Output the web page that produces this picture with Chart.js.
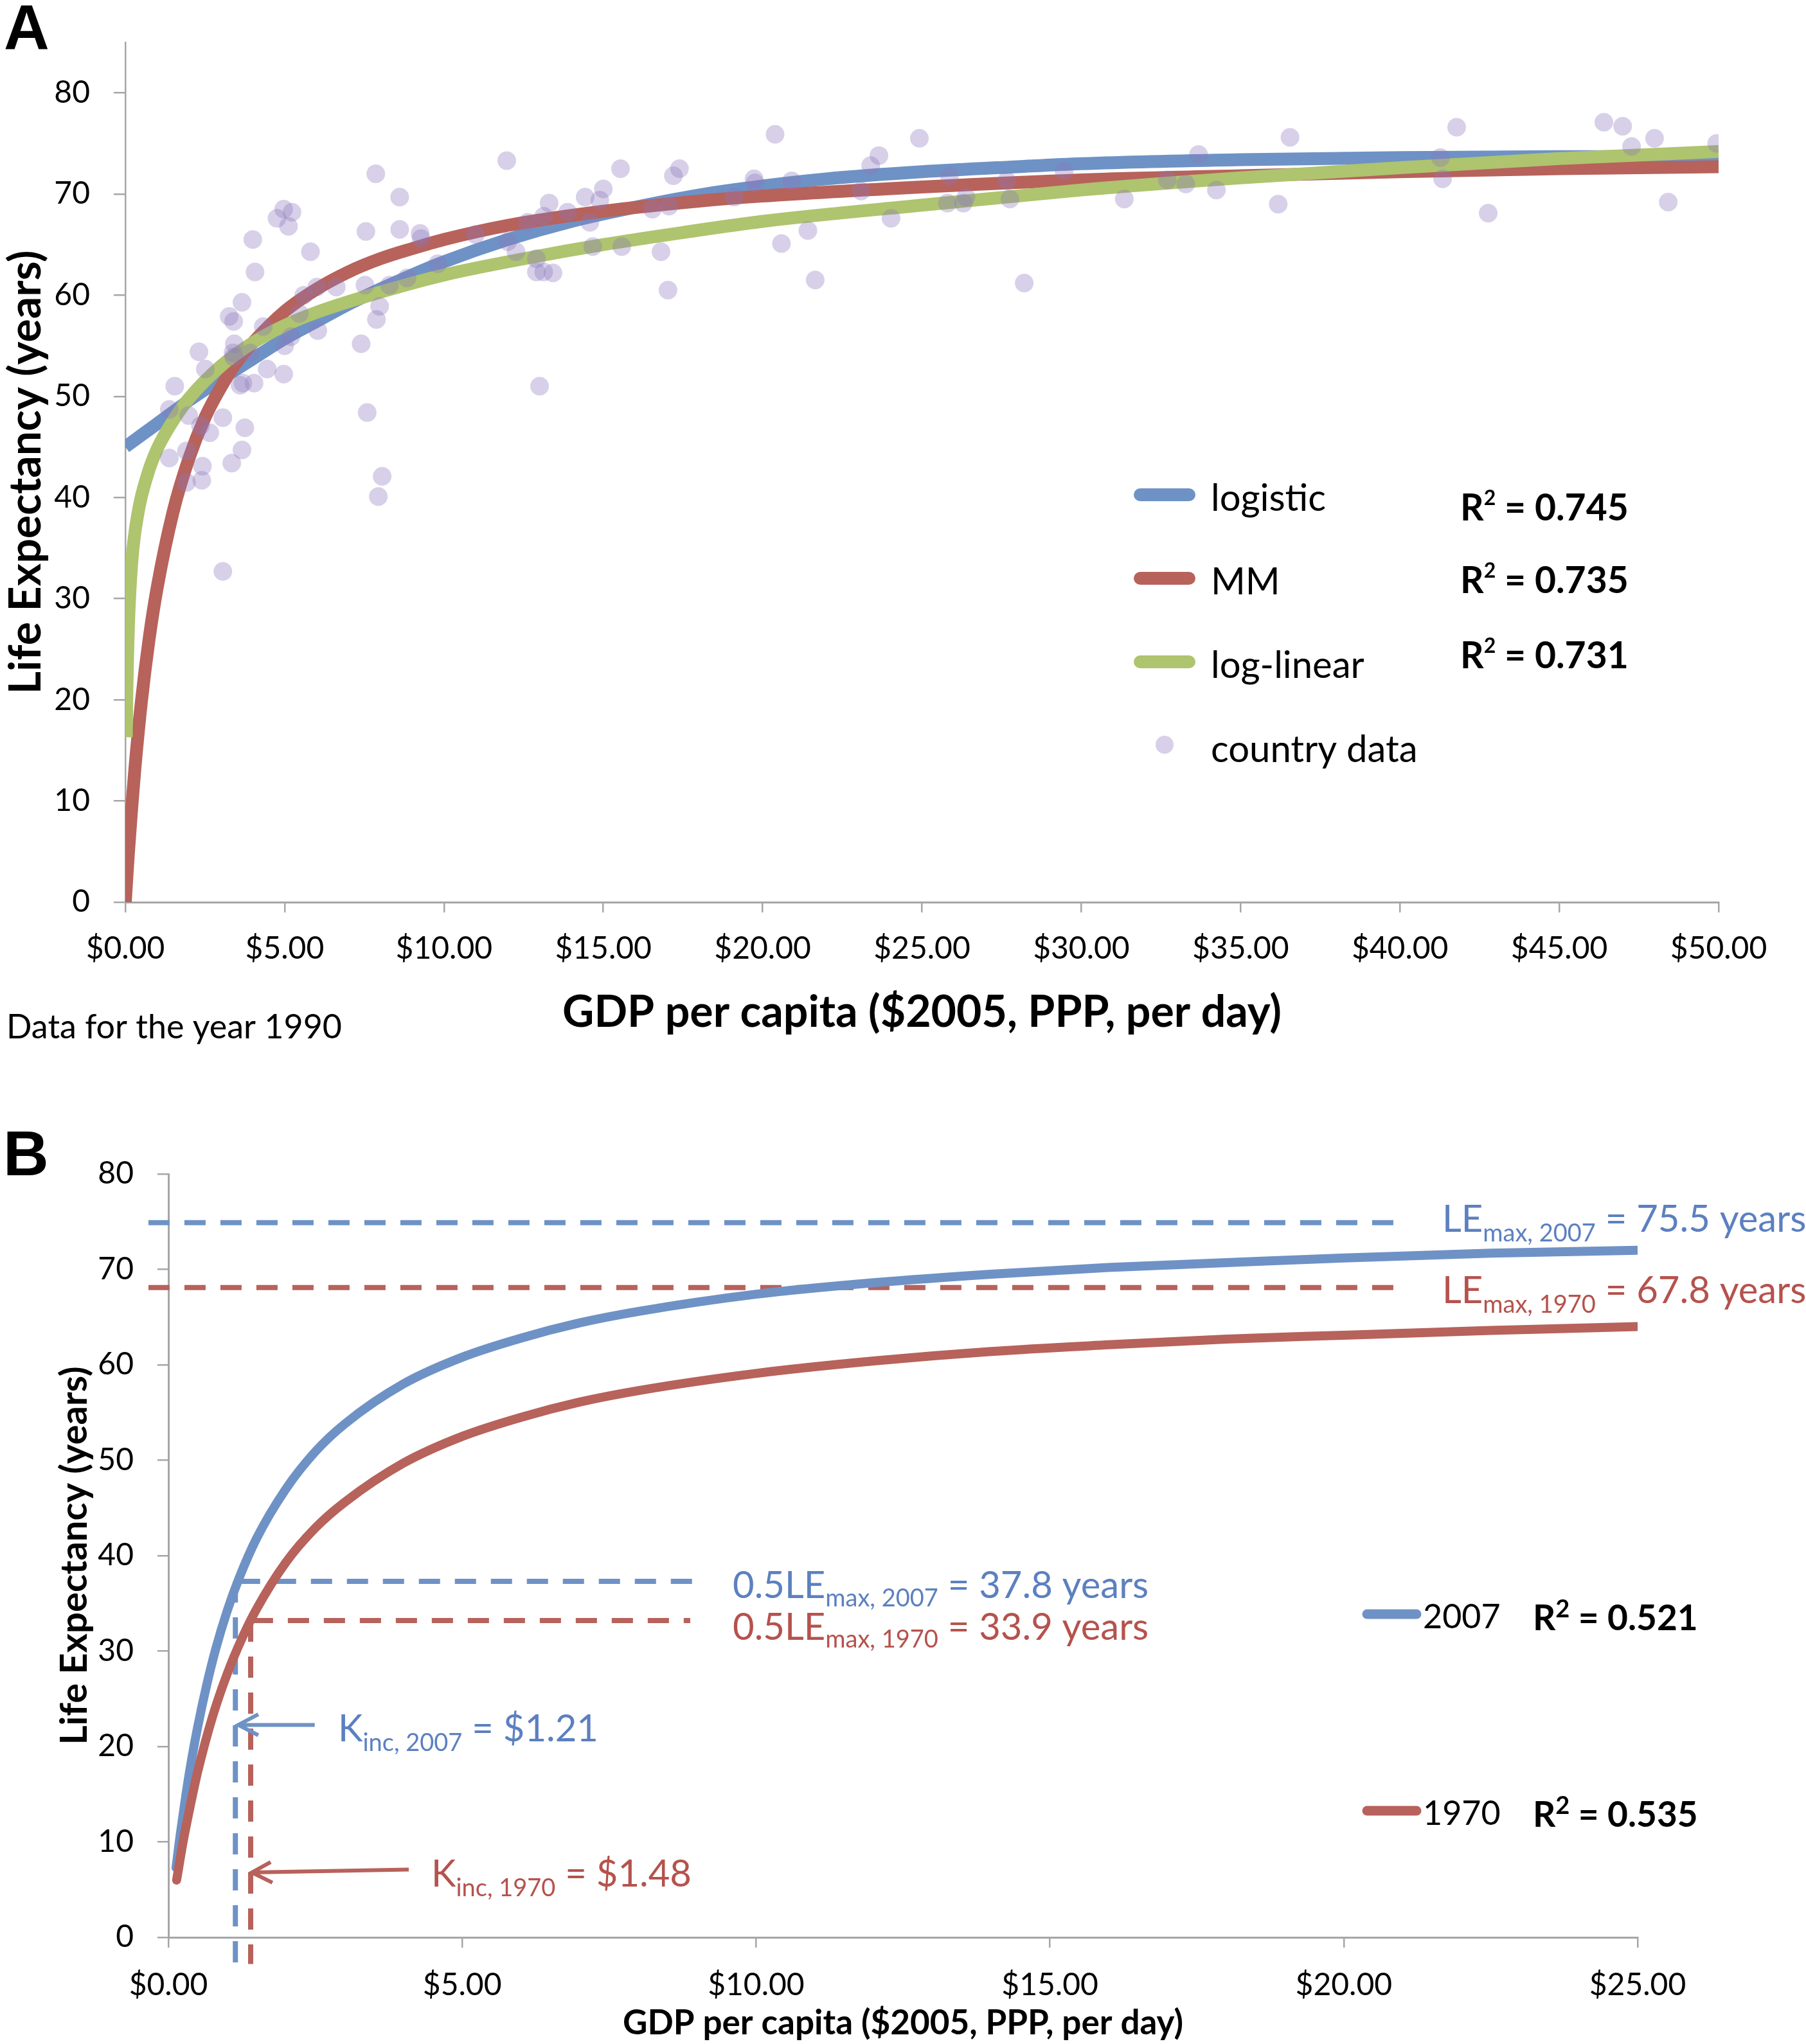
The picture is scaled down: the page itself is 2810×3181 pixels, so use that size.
<!DOCTYPE html>
<html><head><meta charset="utf-8">
<script src="https://cdn.jsdelivr.net/npm/chart.js@4.4.1/dist/chart.umd.min.js"></script>
<style>
html,body{margin:0;padding:0;background:#fff;}
#wrap{position:relative;width:2810px;height:3181px;background:#fff;}
#cA{position:absolute;left:0;top:0;}
#cB{position:absolute;left:0;top:1660px;}
</style></head>
<body><div id="wrap"><canvas id="cA" width="2810" height="1660"></canvas><canvas id="cB" width="2810" height="1521"></canvas></div>
<script>
// ---------------- Panel A data (year 1990) ----------------
const aTicksX = [0,5,10,15,20,25,30,35,40,45,50];
const aTicksY = [0,10,20,30,40,50,60,70,80];
const countryGDP = [1.38,1.38,1.55,1.92,1.92,1.99,2.31,2.36,2.40,2.42,2.51,2.65,3.06,3.06,3.26,3.34,3.38,3.40,3.40,3.42,3.60,3.66,3.66,3.69,3.75,3.92,4.00,4.04,4.07,4.33,4.45,4.76,4.97,4.97,5.00,5.12,5.20,5.23,5.46,5.60,5.81,6.01,6.04,6.62,7.40,7.52,7.55,7.59,7.86,7.88,7.94,7.98,8.06,8.29,8.61,8.61,8.84,9.25,9.28,9.80,10.99,11.97,12.00,12.26,12.63,12.90,12.90,13.00,13.13,13.13,13.30,13.42,13.88,14.43,14.58,14.67,14.89,15.00,15.54,15.58,16.54,16.81,17.03,17.06,17.20,17.39,19.11,19.73,19.76,20.39,20.59,20.91,21.42,21.65,23.09,23.39,23.65,24.03,24.92,25.80,25.86,26.30,26.38,27.66,27.76,28.21,29.46,31.35,32.70,33.28,33.68,34.24,36.18,36.55,41.27,41.34,41.78,42.77,46.40,46.99,47.27,47.99,48.42,49.94];
const countryLE = [48.7,43.9,51.0,44.6,41.5,48.1,54.4,47.1,41.7,43.1,52.7,46.4,47.9,32.7,57.9,43.4,54.3,57.4,53.9,55.2,51.1,59.3,44.7,51.3,46.9,54.3,65.5,51.3,62.3,56.9,52.7,67.6,68.5,52.2,55.0,66.8,55.9,68.2,58.2,60.0,64.3,60.8,56.5,60.8,55.2,61.0,66.3,48.4,72.0,57.6,40.1,58.9,42.1,61.0,69.7,66.5,61.7,66.1,65.6,63.1,66.0,73.3,65.3,64.3,67.2,63.6,62.3,51.0,67.8,62.3,69.1,62.2,68.2,69.7,67.2,64.8,69.4,70.5,72.5,64.8,68.5,64.3,60.5,68.8,71.8,72.5,69.7,71.5,71.1,75.9,65.1,71.3,66.4,61.5,70.3,72.8,73.8,67.6,75.5,69.1,71.8,69.1,69.7,71.3,69.5,61.2,72.3,69.5,71.4,71.0,73.9,70.4,69.0,75.6,73.6,71.5,76.6,68.1,77.1,76.7,74.7,75.5,69.2,75.0];
const logisticX = [0,1,2,3,4,5,6,7,8,9,10,12,14,16,18,20,22,25,28,30,35,40,45,50];
const logisticY = [45.0,47.3,49.6,51.7,53.7,55.7,57.4,59.1,60.6,62.0,63.3,65.5,67.3,68.7,69.9,70.8,71.5,72.2,72.7,73.0,73.4,73.6,73.7,73.7];
const mmX = [0,0.05,0.1,0.2,0.3,0.5,0.75,1,1.5,2,2.5,3,3.5,4,5,6,7,8,9,10,12,15,18,20,25,30,35,40,45,50];
const mmY = [0,2.6,5.0,9.3,13.2,19.7,26.1,31.1,38.6,43.9,47.9,50.9,53.4,55.3,58.4,60.6,62.3,63.6,64.6,65.5,66.9,68.3,69.3,69.8,70.7,71.4,71.8,72.2,72.5,72.7];
const logLinX = [0.03,0.05,0.1,0.2,0.4,0.7,1,1.5,2,3,4,5,6,8,10,12.5,15,17.5,20,25,30,35,40,45,50];
const logLinY = [16.3,21.0,27.5,33.5,38.5,42.3,44.8,47.6,49.8,53.0,55.3,57.0,58.3,60.3,62.0,63.6,65.0,66.2,67.3,68.9,70.4,71.6,72.6,73.5,74.2];
const legendNamesA = ['logistic','MM','log-linear','country data'];
const r2A = ['0.745','0.735','0.731'];

// ---------------- Panel B data (1970 vs 2007) ----------------
const bTicksX = [0,5,10,15,20,25];
const bTicksY = [0,10,20,30,40,50,60,70,80];
const gdp2007 = [0.13,0.2,0.3,0.4,0.5,0.65,0.8,1.0,1.2,1.5,2.0,2.5,3.0,4.0,5.0,6.0,7.0,8.0,10,12,14,16,18,20,22.5,25];
const le2007  = [7.3,10.7,15.0,18.8,22.1,26.4,30.1,34.2,37.6,41.8,47.0,50.9,53.8,58.0,60.8,62.8,64.4,65.6,67.4,68.6,69.5,70.2,70.7,71.2,71.7,72.0];
const gdp1970 = [0.14,0.25,0.4,0.5,0.75,1.0,1.25,1.5,2.0,2.5,3.0,4.0,5.0,6.0,7.0,8.0,10,12,14,16,18,20,22.5,25];
const le1970  = [6.0,10.0,14.6,17.4,23.1,27.6,31.3,34.4,39.3,42.9,45.6,49.7,52.5,54.5,56.1,57.3,59.1,60.4,61.4,62.1,62.7,63.1,63.6,64.0];
const leMaxLevels = [74.9, 68.1];          // dashed LEmax lines (2007, 1970)
const leMaxSpan = [-0.34, 20.98];
const halfLevels = [37.3, 33.2];           // dashed 0.5*LEmax lines
const halfSpans = [[1.2, 9.0], [1.42, 8.88]];
const kIncX = [1.14, 1.40];                // vertical dashed K lines
const kIncBottom = -2.8;
const arrowTail = [[2.49, 22.26], [4.09, 7.10]];
const arrowTip  = [[1.19, 22.26], [1.42, 6.80]];
const arrowWingA = [[1.53, 23.37], [1.74, 7.88]];
const arrowWingB = [[1.53, 21.18], [1.77, 5.73]];
const r2B = ['0.521', '0.535'];
const yearsB = ['2007', '1970'];

// ---------------- styles ----------------
const BLUE = 'rgb(110,146,197)';
const RED = 'rgb(183,98,91)';
const GREEN = 'rgb(174,196,110)';
const DOT = 'rgba(140,120,190,0.35)';
const AXIS = '#a6a6a6';
const TBLUE = 'rgb(92,128,192)';
const TRED = 'rgb(181,82,77)';
const F = 'Lato';

function pts(xs, ys) { return xs.map((x, i) => ({x: x, y: ys[i]})); }

function rich(ctx, x, y, parts, color) {
  ctx.save();
  ctx.fillStyle = color; ctx.textAlign = 'left'; ctx.textBaseline = 'alphabetic';
  let cx = x;
  for (const p of parts) {
    ctx.font = p.font;
    ctx.fillText(p.t, cx, y + (p.dy || 0));
    cx += ctx.measureText(p.t).width;
  }
  ctx.restore();
}
function sample(ctx, x1, x2, y, w, color) {
  ctx.save(); ctx.strokeStyle = color; ctx.lineWidth = w; ctx.lineCap = 'round';
  ctx.beginPath(); ctx.moveTo(x1, y); ctx.lineTo(x2, y); ctx.stroke(); ctx.restore();
}

const annA = {
  id: 'annA',
  afterDraw(chart) {
    const ctx = chart.ctx;
    ctx.save();
    ctx.fillStyle = '#000'; ctx.textBaseline = 'alphabetic'; ctx.textAlign = 'left';
    ctx.font = 'bold 98px "Liberation Sans", Arial, sans-serif';
    ctx.fillText('A', 6, 76);
    ctx.font = '52px ' + F;
    ctx.fillText('Data for the year 1990', 10, 1616);
    ctx.restore();
    const cols = [BLUE, RED, GREEN];
    const ly = [770, 900, 1030];
    const ty = [795, 925, 1055, 1186];
    for (let i = 0; i < 3; i++) sample(ctx, 1774, 1850, ly[i], 20, cols[i]);
    ctx.save(); ctx.fillStyle = DOT; ctx.beginPath(); ctx.arc(1812, 1159, 14, 0, Math.PI * 2); ctx.fill(); ctx.restore();
    for (let i = 0; i < 4; i++) rich(ctx, 1884, ty[i], [{t: legendNamesA[i], font: '58px ' + F}], '#000');
    const ry = [810, 923, 1040];
    for (let i = 0; i < 3; i++) rich(ctx, 2272, ry[i], [
      {t: 'R', font: 'bold 57px ' + F},
      {t: '2', font: 'bold 32px ' + F, dy: -24},
      {t: ' = ' + r2A[i], font: 'bold 57px ' + F}], '#000');
  }
};

const annB = {
  id: 'annB',
  afterDraw(chart) {
    const ctx = chart.ctx;
    ctx.save();
    ctx.fillStyle = '#000'; ctx.textBaseline = 'alphabetic'; ctx.textAlign = 'left';
    ctx.font = 'bold 98px "Liberation Sans", Arial, sans-serif';
    ctx.fillText('B', 5, 169);
    ctx.restore();
    const M = '58px ' + F, S = '38px ' + F;
    rich(ctx, 2244, 257, [{t: 'LE', font: M}, {t: 'max, 2007', font: S, dy: 15}, {t: ' = 75.5 years', font: M}], TBLUE);
    rich(ctx, 2244, 368, [{t: 'LE', font: M}, {t: 'max, 1970', font: S, dy: 15}, {t: ' = 67.8 years', font: M}], TRED);
    rich(ctx, 1140, 827, [{t: '0.5LE', font: M}, {t: 'max, 2007', font: S, dy: 13}, {t: ' = 37.8 years', font: M}], TBLUE);
    rich(ctx, 1140, 892, [{t: '0.5LE', font: M}, {t: 'max, 1970', font: S, dy: 12}, {t: ' = 33.9 years', font: M}], TRED);
    rich(ctx, 526, 1050, [{t: 'K', font: M}, {t: 'inc, 2007', font: S, dy: 15}, {t: ' = $1.21', font: M}], TBLUE);
    rich(ctx, 671, 1276, [{t: 'K', font: M}, {t: 'inc, 1970', font: S, dy: 15}, {t: ' = $1.48', font: M}], TRED);
    // legend
    const sy = [852, 1158], ty = [874, 1180], ry = [877, 1183], cols = [BLUE, RED];
    for (let i = 0; i < 2; i++) {
      sample(ctx, 2127, 2204, sy[i], 15, cols[i]);
      rich(ctx, 2214, ty[i], [{t: yearsB[i], font: '52px ' + F}], '#000');
      rich(ctx, 2385, ry[i], [
        {t: 'R', font: 'bold 55px ' + F},
        {t: '2', font: 'bold 38px ' + F, dy: -20},
        {t: ' = ' + r2B[i], font: 'bold 55px ' + F}], '#000');
    }
  }
};

function tickGrid(len) {
  return {display: true, drawOnChartArea: false, drawTicks: true, tickLength: len,
          color: AXIS, lineWidth: 2.5, tickColor: AXIS, tickWidth: 2.5};
}

function makeCharts() {
  Chart.defaults.font.family = F;
  // ---------- Chart A ----------
  new Chart(document.getElementById('cA'), {
    type: 'scatter',
    data: {
      datasets: [
        {label: 'country data', data: pts(countryGDP, countryLE), showLine: false,
         pointRadius: 14.5, pointHoverRadius: 14.5, pointBackgroundColor: DOT, pointBorderWidth: 0, order: 0},
        {label: 'log-linear', data: pts(logLinX, logLinY), showLine: true, borderColor: GREEN, borderWidth: 20,
         pointRadius: 0, cubicInterpolationMode: 'monotone', fill: false, order: 1},
        {label: 'MM', data: pts(mmX, mmY), showLine: true, borderColor: RED, borderWidth: 20,
         pointRadius: 0, cubicInterpolationMode: 'monotone', fill: false, order: 2},
        {label: 'logistic', data: pts(logisticX, logisticY), showLine: true, borderColor: BLUE, borderWidth: 20,
         pointRadius: 0, cubicInterpolationMode: 'monotone', fill: false, order: 3}
      ]
    },
    options: {
      responsive: false, animation: false, devicePixelRatio: 1, events: [],
      layout: {padding: {left: 0, top: 56, right: 136, bottom: 0}},
      plugins: {legend: {display: false}, tooltip: {enabled: false}},
      scales: {
        x: {type: 'linear', min: 0, max: 50,
            afterBuildTicks: s => { s.ticks = aTicksX.map(v => ({value: v})); },
            afterFit: s => { s.height = 256; },
            grid: tickGrid(16),
            border: {display: true, color: AXIS, width: 3},
            ticks: {padding: 28, color: '#000', font: {family: F, size: 48}, maxRotation: 0, autoSkip: false,
                    callback: v => '$' + Number(v).toFixed(2)},
            title: {display: true, text: 'GDP per capita ($2005, PPP, per day)', color: '#000',
                    font: {family: F, size: 68, weight: 'bold'}, padding: {top: 0, bottom: 43}}},
        y: {type: 'linear', min: 0, max: 85,
            afterBuildTicks: s => { s.ticks = aTicksY.map(v => ({value: v})); },
            afterFit: s => { s.width = 195; },
            grid: tickGrid(18),
            border: {display: true, color: AXIS, width: 2.5},
            ticks: {padding: 37, color: '#000', font: {family: F, size: 48}},
            title: {display: true, text: 'Life Expectancy (years)', color: '#000',
                    font: {family: F, size: 68, weight: 'bold'}, padding: {top: 0, bottom: 0}}}
      }
    },
    plugins: [annA]
  });

  // ---------- Chart B ----------
  const dashSet = (data, color) => ({data: data, showLine: true, borderColor: color, borderWidth: 8,
    borderDash: [33, 23], pointRadius: 0, fill: false, clip: false, order: 3});
  const arrowSet = (data, color) => ({data: data, showLine: true, borderColor: color, borderWidth: 6,
    pointRadius: 0, fill: false, clip: false, order: 2});
  const cols = [BLUE, RED];
  const bSets = [
    {label: '1970', data: pts(gdp1970, le1970), showLine: true, borderColor: RED, borderWidth: 14,
     borderCapStyle: 'round', pointRadius: 0, cubicInterpolationMode: 'monotone', fill: false, order: 0},
    {label: '2007', data: pts(gdp2007, le2007), showLine: true, borderColor: BLUE, borderWidth: 14,
     borderCapStyle: 'round', pointRadius: 0, cubicInterpolationMode: 'monotone', fill: false, order: 1}
  ];
  for (let i = 0; i < 2; i++) {
    bSets.push(dashSet([{x: leMaxSpan[0], y: leMaxLevels[i]}, {x: leMaxSpan[1], y: leMaxLevels[i]}], cols[i]));
    bSets.push(dashSet([{x: halfSpans[i][0], y: halfLevels[i]}, {x: halfSpans[i][1], y: halfLevels[i]}], cols[i]));
    bSets.push(dashSet([{x: kIncX[i], y: halfLevels[i]}, {x: kIncX[i], y: kIncBottom}], cols[i]));
    bSets.push(arrowSet([{x: arrowTail[i][0], y: arrowTail[i][1]}, {x: arrowTip[i][0], y: arrowTip[i][1]}], cols[i]));
    bSets.push(arrowSet([{x: arrowWingA[i][0], y: arrowWingA[i][1]}, {x: arrowTip[i][0], y: arrowTip[i][1]},
                         {x: arrowWingB[i][0], y: arrowWingB[i][1]}], cols[i]));
  }
  new Chart(document.getElementById('cB'), {
    type: 'scatter',
    data: {datasets: bSets},
    options: {
      responsive: false, animation: false, devicePixelRatio: 1, events: [],
      layout: {padding: {left: 0, top: 167, right: 262, bottom: 0}},
      plugins: {legend: {display: false}, tooltip: {enabled: false}},
      scales: {
        x: {type: 'linear', min: 0, max: 25,
            afterBuildTicks: s => { s.ticks = bTicksX.map(v => ({value: v})); },
            afterFit: s => { s.height = 166; },
            grid: tickGrid(16),
            border: {display: true, color: AXIS, width: 3},
            ticks: {padding: 30, color: '#000', font: {family: F, size: 48}, maxRotation: 0, autoSkip: false,
                    callback: v => '$' + Number(v).toFixed(2)},
            title: {display: true, text: 'GDP per capita ($2005, PPP, per day)', color: '#000',
                    font: {family: F, size: 53, weight: 'bold'}, padding: {top: 0, bottom: 0}}},
        y: {type: 'linear', min: 0, max: 80,
            afterBuildTicks: s => { s.ticks = bTicksY.map(v => ({value: v})); },
            afterFit: s => { s.width = 262; },
            grid: tickGrid(17),
            border: {display: true, color: AXIS, width: 3},
            ticks: {padding: 37, color: '#000', font: {family: F, size: 48}},
            title: {display: true, text: 'Life Expectancy (years)', color: '#000',
                    font: {family: F, size: 58, weight: 'bold'}, padding: {top: 81, bottom: 0}}}
      }
    },
    plugins: [annB]
  });
}

const fontLoads = ['48px Lato', 'bold 60px Lato', 'bold 98px "Liberation Sans"'].map(f => document.fonts.load(f).catch(() => null));
Promise.all(fontLoads).then(makeCharts, makeCharts);
</script></body></html>
